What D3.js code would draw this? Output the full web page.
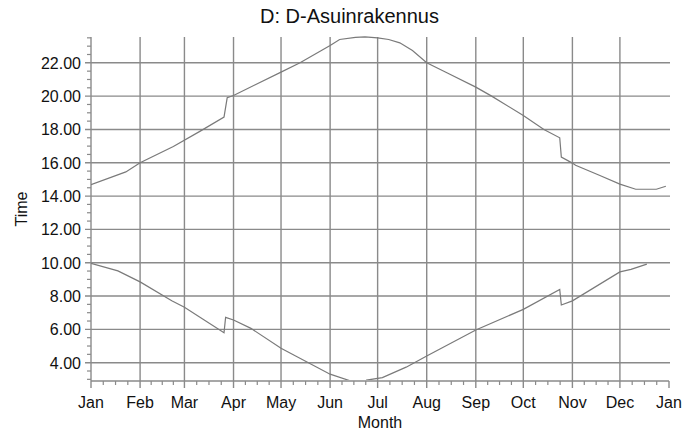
<!DOCTYPE html>
<html>
<head>
<meta charset="utf-8">
<script src="https://cdn.jsdelivr.net/npm/d3@7"></script>
<style>
  body { margin: 0; background: #fff; }
  text { font-family: "Liberation Sans", Arial, sans-serif; fill: #111; }
</style>
</head>
<body>
<svg id="chart"></svg>
<script>
// data (decimal hours)
const year = 2021
const monthLabels = ["Jan","Feb","Mar","Apr","May","Jun","Jul","Aug","Sep","Oct","Nov","Dec","Jan"]
const yTicks = [4, 6, 8, 10, 12, 14, 16, 18, 20, 22]

const sunsetDates = ["01-01","01-23","02-01","02-22","03-11","03-26","03-28","04-01","05-01","05-13","06-01","06-07","06-17","06-23","07-01","07-08","07-15","07-23","08-01","08-15","09-01","09-11","10-01","10-14","10-24","10-25","11-01","11-03","11-18","12-01","12-11","12-24","12-30"]
const sunsetValues = [14.68,15.45,16.0,16.98,17.9,18.74,19.9,20.04,21.44,22.0,23.04,23.4,23.53,23.56,23.5,23.4,23.2,22.74,22.0,21.34,20.54,20.0,18.84,18.0,17.5,16.34,15.98,15.85,15.25,14.72,14.41,14.41,14.59]

const sunriseDates = ["01-01","01-18","02-01","02-21","03-01","03-26","03-27","04-01","04-12","05-01","06-01","06-14","06-21","06-24","07-04","07-19","08-01","09-01","10-01","10-24","10-25","11-01","12-01","12-08","12-18"]
const sunriseValues = [9.96,9.51,8.85,7.72,7.33,5.80,6.72,6.56,6.06,4.86,3.31,2.9,2.7,2.95,3.1,3.73,4.40,5.96,7.2,8.40,7.46,7.71,9.45,9.6,9.92]

const W = 699, H = 432
const m = {left: 91, right: 669, top: 37, bottom: 381}
const parse = d3.timeParse("%Y-%m-%d")
const toPts = (ds, vs) => ds.map((d, i) => ({date: parse(year + "-" + d), v: vs[i]}))

let svg = d3.select('#chart').attr('width', W).attr('height', H)

let x = d3.scaleTime()
          .domain([new Date(year, 0, 1), new Date(year + 1, 0, 1)])
          .range([m.left, m.right])
let y = d3.scaleLinear()
          .domain([2.9, 23.55])
          .range([m.bottom, m.top])

const gridColor = "#8a8a8a"
let months = d3.range(13).map(i => new Date(year, i, 1))

// grid
svg.append('g').selectAll('line').data(yTicks).enter().append('line')
   .attr('x1', m.left - 6).attr('x2', m.right + 1)
   .attr('y1', d => y(d)).attr('y2', d => y(d))
   .attr('stroke', gridColor).attr('stroke-width', 1.4)
svg.append('g').selectAll('line').data(months.slice(1, 12)).enter().append('line')
   .attr('x1', d => x(d)).attr('x2', d => x(d))
   .attr('y1', m.top).attr('y2', m.bottom + 7)
   .attr('stroke', gridColor).attr('stroke-width', 1.4)

// axis lines
svg.append('line').attr('x1', m.left).attr('x2', m.left).attr('y1', m.top).attr('y2', m.bottom + 7)
   .attr('stroke', gridColor).attr('stroke-width', 1.4)
svg.append('line').attr('x1', m.left).attr('x2', m.right).attr('y1', m.bottom).attr('y2', m.bottom)
   .attr('stroke', gridColor).attr('stroke-width', 1.4)
svg.append('line').attr('x1', m.right).attr('x2', m.right).attr('y1', m.bottom).attr('y2', m.bottom + 7)
   .attr('stroke', gridColor).attr('stroke-width', 1.4)

// minor ticks: half hours on y, quarter months on x
let yMinor = d3.range(3, 23.6, 0.5).filter(v => v % 2 !== 0)
svg.append('g').selectAll('line').data(yMinor).enter().append('line')
   .attr('x1', m.left - 4).attr('x2', m.left)
   .attr('y1', d => y(d)).attr('y2', d => y(d))
   .attr('stroke', gridColor).attr('stroke-width', 1.2)
let xMinor = []
months.slice(0, 12).forEach((d, i) => {
  let t0 = +d, t1 = +months[i + 1]
  for (let k = 1; k < 4; k++) xMinor.push(new Date(t0 + (t1 - t0) * k / 4))
})
svg.append('g').selectAll('line').data(xMinor).enter().append('line')
   .attr('x1', d => x(d)).attr('x2', d => x(d))
   .attr('y1', m.bottom).attr('y2', m.bottom + 4)
   .attr('stroke', gridColor).attr('stroke-width', 1.2)

// tick labels
svg.append('g').selectAll('text').data(yTicks).enter().append('text')
   .attr('x', m.left - 10).attr('y', d => y(d) + 6)
   .attr('text-anchor', 'end').style('font-size', '16px')
   .text(d => d.toFixed(2))
svg.append('g').selectAll('text').data(months).enter().append('text')
   .attr('x', d => x(d)).attr('y', 408)
   .attr('text-anchor', 'middle').style('font-size', '16px')
   .text((d, i) => monthLabels[i])

// titles
svg.append('text').attr('x', W / 2).attr('y', 23)
   .attr('text-anchor', 'middle').style('font-size', '20px')
   .text('D: D-Asuinrakennus')
svg.append('text').attr('x', (m.left + m.right) / 2).attr('y', 428)
   .attr('text-anchor', 'middle').style('font-size', '16px')
   .text('Month')
svg.append('text').attr('transform', 'translate(27,' + ((m.top + m.bottom) / 2) + ') rotate(-90)')
   .attr('text-anchor', 'middle').style('font-size', '16px')
   .text('Time')

// lines
svg.append('clipPath').attr('id', 'plot').append('rect')
   .attr('x', m.left).attr('y', m.top - 2).attr('width', m.right - m.left).attr('height', m.bottom - m.top + 1)
let line = d3.line().x(d => x(d.date)).y(d => y(d.v))
let g = svg.append('g').attr('clip-path', 'url(#plot)')
;[toPts(sunsetDates, sunsetValues), toPts(sunriseDates, sunriseValues)].forEach(pts => {
  g.append('path').datum(pts).attr('d', line)
   .attr('fill', 'none').attr('stroke', '#7a7a7a').attr('stroke-width', 1.2)
})
</script>
</body>
</html>
